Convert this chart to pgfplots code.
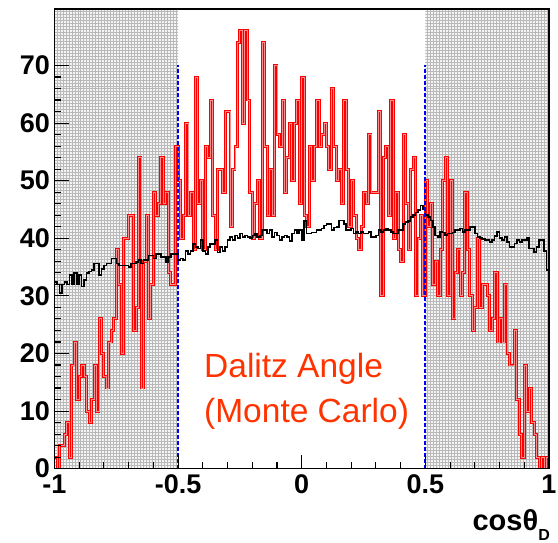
\documentclass[border=0pt]{standalone}
\usepackage{fontspec}
\setmainfont{Liberation Sans}
\usepackage{pgfplots}
\usepackage{pgfplotstable}
\pgfplotsset{compat=1.18}
\usetikzlibrary{patterns}
\definecolor{dalitz}{RGB}{255,51,0}
\definecolor{cutblue}{RGB}{0,0,255}

\pgfplotstableread[row sep=\\]{
x r b \\
-1.00 2 32.4 \\ -0.99 0 32 \\ -0.98 4 30.5 \\ -0.97 4 32 \\ -0.96 6 32.4 \\
-0.95 8 32 \\ -0.94 2 33.6 \\ -0.93 18 32 \\ -0.92 22 34 \\ -0.91 12 32 \\
-0.90 16 33.6 \\ -0.89 18 31.6 \\ -0.88 16 32.8 \\ -0.87 10 34 \\ -0.86 8 34.2 \\
-0.85 12 34.5 \\ -0.84 18 35.6 \\ -0.83 10 35.6 \\ -0.82 26 33.6 \\ -0.81 20 34.7 \\
-0.80 16 35.3 \\ -0.79 14 35.6 \\ -0.78 22 35.6 \\ -0.77 24 36.5 \\ -0.76 26 36.5 \\
-0.75 38 35.6 \\ -0.74 32 35.3 \\ -0.73 20 35.3 \\ -0.72 40 35.3 \\ -0.71 40 35.3 \\
-0.70 44 35 \\ -0.69 44 35.6 \\ -0.68 24 35.6 \\ -0.67 28 35.9 \\ -0.66 54 36.2 \\
-0.65 14 35.6 \\ -0.64 36 36.2 \\ -0.63 44 36.2 \\ -0.62 26 37 \\ -0.61 32 37 \\
-0.60 48 36.5 \\ -0.59 44 37.3 \\ -0.58 46 37.3 \\ -0.57 54 36.8 \\ -0.56 46 36.8 \\
-0.55 48 35.9 \\ -0.54 34 36.8 \\ -0.53 32 37.3 \\ -0.52 32 37.3 \\ -0.51 56 37.3 \\
-0.50 50 36.2 \\ -0.49 40 36.5 \\ -0.48 44 36.2 \\ -0.47 60 37.8 \\ -0.46 44 37.3 \\
-0.45 48 37.8 \\ -0.44 38 39 \\ -0.43 68 38.5 \\ -0.42 46 38.2 \\ -0.41 50 39.7 \\
-0.40 38 37.8 \\ -0.39 56 37.3 \\ -0.38 54 38.5 \\ -0.37 64 39 \\ -0.36 44 39 \\
-0.35 38 39.7 \\ -0.34 52 37.5 \\ -0.33 52 38.5 \\ -0.32 48 37.8 \\ -0.31 62 38.5 \\
-0.30 62 39.7 \\ -0.29 42 40.2 \\ -0.28 52 39.7 \\ -0.27 56 40.5 \\ -0.26 74 40 \\
-0.25 76 40.8 \\ -0.24 60 40.2 \\ -0.23 76 40.5 \\ -0.22 64 40.2 \\ -0.21 48 40 \\
-0.20 40 40.5 \\ -0.19 46 40.8 \\ -0.18 50 40.2 \\ -0.17 40 40.5 \\ -0.16 74 41.4 \\
-0.15 56 41.4 \\ -0.14 44 40.8 \\ -0.13 52 41.4 \\ -0.12 44 40.2 \\ -0.11 70 41 \\
-0.10 58 40.5 \\ -0.09 56 39.7 \\ -0.08 64 40.2 \\ -0.07 48 40.5 \\ -0.06 54 40.2 \\
-0.05 60 39.5 \\ -0.04 50 40.8 \\ -0.03 60 41.4 \\ -0.02 64 40.8 \\ -0.01 46 41.4 \\
0.00 68 39.7 \\ 0.01 44 43 \\ 0.02 42 40.8 \\ 0.03 56 40.8 \\ 0.04 50 41 \\
0.05 56 41 \\ 0.06 64 41.4 \\ 0.07 56 41.4 \\ 0.08 58 41.7 \\ 0.09 60 42.2 \\
0.10 56 42.5 \\ 0.11 52 42.5 \\ 0.12 66 41.4 \\ 0.13 56 41.9 \\ 0.14 50 42 \\
0.15 52 43.1 \\ 0.16 46 43.1 \\ 0.17 64 42.5 \\ 0.18 52 41.4 \\ 0.19 42 41.4 \\
0.20 50 41.7 \\ 0.21 44 40.8 \\ 0.22 40 41.1 \\ 0.23 38 40.8 \\ 0.24 42 41.1 \\
0.25 48 40.8 \\ 0.26 46 40.8 \\ 0.27 58 41.1 \\ 0.28 48 40.2 \\ 0.29 48 40.2 \\
0.30 48 40.5 \\ 0.31 62 41.4 \\ 0.32 30 41.1 \\ 0.33 54 41.4 \\ 0.34 56 41.7 \\
0.35 44 41.4 \\ 0.36 64 41.1 \\ 0.37 40 40.8 \\ 0.38 48 40.8 \\ 0.39 38 41.4 \\
0.40 36 41.4 \\ 0.41 58 42.5 \\ 0.42 46 42.8 \\ 0.43 38 43 \\ 0.44 52 43.7 \\
0.45 54 44 \\ 0.46 30 44.5 \\ 0.47 40 44.9 \\ 0.48 44 45.7 \\ 0.49 30 45 \\
0.50 50 44 \\ 0.51 42 43.7 \\ 0.52 46 43.1 \\ 0.53 32 42 \\ 0.54 36 40.5 \\
0.55 30 40.2 \\ 0.56 38 41.1 \\ 0.57 50 41 \\ 0.58 54 40.6 \\ 0.59 30 40.8 \\
0.60 50 40.8 \\ 0.61 26 41 \\ 0.62 34 41.4 \\ 0.63 38 41.4 \\ 0.64 30 41.7 \\
0.65 34 41.1 \\ 0.66 48 41.4 \\ 0.67 38 41.4 \\ 0.68 30 42 \\ 0.69 24 42 \\
0.70 28 40.8 \\ 0.71 40 40.2 \\ 0.72 28 40 \\ 0.73 32 39.9 \\ 0.74 32 39.7 \\
0.75 30 39.7 \\ 0.76 24 39.4 \\ 0.77 26 39.7 \\ 0.78 34 40.4 \\ 0.79 22 41.1 \\
0.80 26 40 \\ 0.81 22 39.7 \\ 0.82 32 40.2 \\ 0.83 20 39.4 \\ 0.84 18 38.5 \\
0.85 18 38.5 \\ 0.86 24 39.1 \\ 0.87 12 39.7 \\ 0.88 6 39.4 \\ 0.89 2 39.7 \\
0.90 18 39.7 \\ 0.91 10 40 \\ 0.92 14 38.2 \\ 0.93 8 38.2 \\ 0.94 6 37.6 \\
0.95 2 38.5 \\ 0.96 0 39.7 \\ 0.97 2 39.7 \\ 0.98 0 37.8 \\ 0.99 2 34.5 \\
1.00 2 34.5 \\
}\histdata

\begin{document}
\begin{tikzpicture}
\begin{axis}[
  scale only axis,
  width=494.5bp, height=459.7bp,
  xmin=-1, xmax=1, ymin=0, ymax=79.8,
  axis on top,
  axis line style={black, line width=1.5bp},
  xtick={-1,-0.5,0,0.5,1},
  xticklabels={-1,-0.5,0,0.5,1},
  ytick={0,10,20,30,40,50,60,70},
  minor x tick num=4,
  minor y tick num=4,
  xtick pos=left, ytick pos=left,
  tick align=inside,
  major tick length=14bp,
  minor tick length=7bp,
  every tick/.style={black, line width=1.1bp},
  /pgf/number format/assume math mode=true,
  tick label style={font=\fontsize{27bp}{27bp}\selectfont\bfseries, inner sep=1bp},
  yticklabel style={xshift=-3.5bp},
  xticklabel style={yshift=-5bp},
  xlabel={cosθ\raisebox{-10bp}{\fontsize{16bp}{16bp}\selectfont D}},
  xlabel style={at={(rel axis cs:1,0)}, anchor=base east, yshift=-61.3bp, xshift=1bp,
    inner sep=0pt, font=\fontsize{29bp}{29bp}\selectfont\bfseries},
]
\coordinate (O) at (rel axis cs:0,0);
\addplot[draw=none, fill=gray!9] coordinates {(-1,0) (-0.5,0) (-0.5,79.8) (-1,79.8)} -- cycle;
\addplot[draw=none, pattern=grid, pattern color=gray!55] coordinates {(-1,0) (-0.5,0) (-0.5,79.8) (-1,79.8)} -- cycle;
\addplot[draw=none, fill=gray!9] coordinates {(0.5,0) (1,0) (1,79.8) (0.5,79.8)} -- cycle;
\addplot[draw=none, pattern=grid, pattern color=gray!55] coordinates {(0.5,0) (1,0) (1,79.8) (0.5,79.8)} -- cycle;

\addplot[const plot mark left, draw=red, line width=1bp, double=red!45, double distance=0.9bp]
  table[x=x, y=r] {\histdata};
\addplot[const plot mark left, draw=black, line width=1.6bp]
  table[x=x, y=b] {\histdata};

\addplot[draw=cutblue, line width=1.6bp, dash pattern=on 4bp off 2bp, mark=none] coordinates {(-0.5,0) (-0.5,70)};
\addplot[draw=cutblue, line width=1.6bp, dash pattern=on 4bp off 2bp, mark=none] coordinates {(0.499,0) (0.499,70)};

\node[anchor=base west, inner sep=0pt, text=dalitz, font=\fontsize{33.5bp}{33.5bp}\selectfont] at (axis cs:-0.3954,15.8) {Dalitz Angle};
\node[anchor=base west, inner sep=0pt, text=dalitz, font=\fontsize{33.5bp}{33.5bp}\selectfont] at (axis cs:-0.3954,8.05) {(Monte Carlo)};
\end{axis}
\pgfresetboundingbox
\path[use as bounding box] ([shift={(-54.5bp,-74.3bp)}]O) rectangle ++(558bp,543bp);
\end{tikzpicture}
\end{document}
